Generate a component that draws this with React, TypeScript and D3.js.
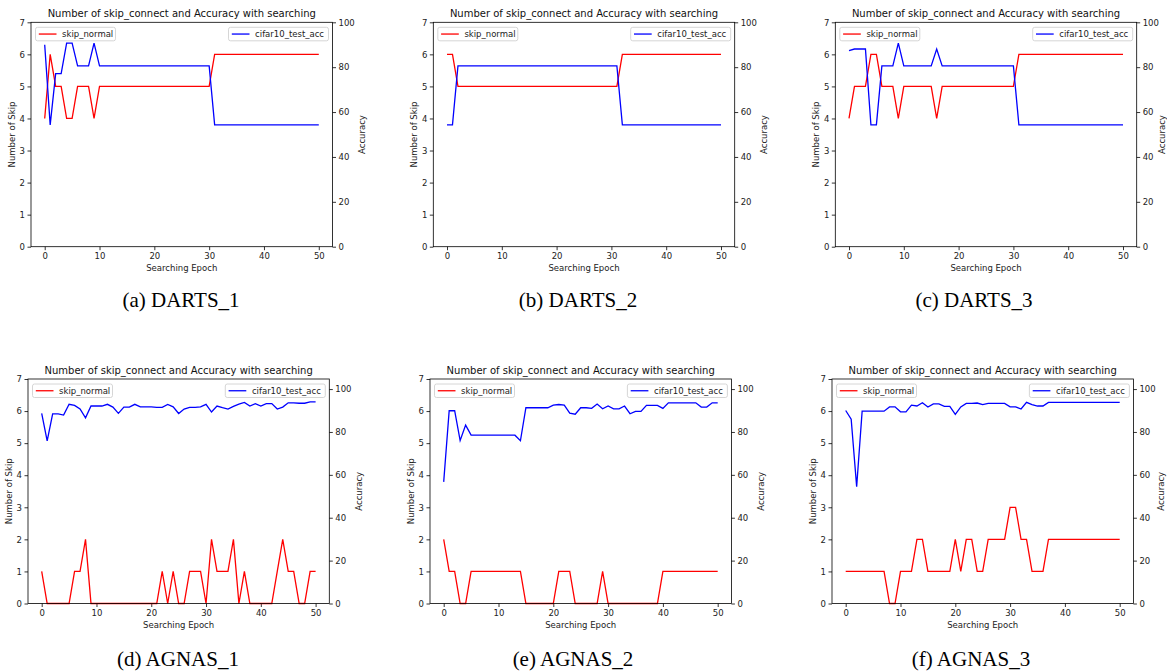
import React, { useEffect, useRef } from "react";
import * as d3 from "d3";

// epochs 0..50
const epochs = [
  0, 1, 2, 3, 4, 5, 6, 7, 8, 9, 10, 11, 12, 13, 14, 15, 16, 17, 18, 19, 20, 21, 22, 23, 24, 25,
  26, 27, 28, 29, 30, 31, 32, 33, 34, 35, 36, 37, 38, 39, 40, 41, 42, 43, 44, 45, 46, 47, 48, 49, 50,
];
const xTicks = [0, 10, 20, 30, 40, 50];
const skipTicks = [0, 1, 2, 3, 4, 5, 6, 7];
const accTicks = [0, 20, 40, 60, 80, 100];

const dartsSkip1 = [4,6,5,5,4,4,5,5,5,4, 5,5,5,5,5,5,5,5,5,5, 5,5,5,5,5,5,5,5,5,5, 5,6,6,6,6,6,6,6,6,6, 6,6,6,6,6,6,6,6,6,6, 6];
const dartsAcc1 = [90,54.3,77.1,77.1,90.7,90.7,80.6,80.6,80.6,90.7, 80.6,80.6,80.6,80.6,80.6,80.6,80.6,80.6,80.6,80.6, 80.6,80.6,80.6,80.6,80.6,80.6,80.6,80.6,80.6,80.6, 80.6,54.3,54.3,54.3,54.3,54.3,54.3,54.3,54.3,54.3, 54.3,54.3,54.3,54.3,54.3,54.3,54.3,54.3,54.3,54.3, 54.3];

const dartsSkip2 = [6,6,5,5,5,5,5,5,5,5, 5,5,5,5,5,5,5,5,5,5, 5,5,5,5,5,5,5,5,5,5, 5,5,6,6,6,6,6,6,6,6, 6,6,6,6,6,6,6,6,6,6, 6];
const dartsAcc2 = [54.3,54.3,80.6,80.6,80.6,80.6,80.6,80.6,80.6,80.6, 80.6,80.6,80.6,80.6,80.6,80.6,80.6,80.6,80.6,80.6, 80.6,80.6,80.6,80.6,80.6,80.6,80.6,80.6,80.6,80.6, 80.6,80.6,54.3,54.3,54.3,54.3,54.3,54.3,54.3,54.3, 54.3,54.3,54.3,54.3,54.3,54.3,54.3,54.3,54.3,54.3, 54.3];

const dartsSkip3 = [4,5,5,5,6,6,5,5,5,4, 5,5,5,5,5,5,4,5,5,5, 5,5,5,5,5,5,5,5,5,5, 5,6,6,6,6,6,6,6,6,6, 6,6,6,6,6,6,6,6,6,6, 6];
const dartsAcc3 = [87.4,88.1,88.1,88.1,54.3,54.3,80.6,80.6,80.6,90.7, 80.6,80.6,80.6,80.6,80.6,80.6,88.1,80.6,80.6,80.6, 80.6,80.6,80.6,80.6,80.6,80.6,80.6,80.6,80.6,80.6, 80.6,54.3,54.3,54.3,54.3,54.3,54.3,54.3,54.3,54.3, 54.3,54.3,54.3,54.3,54.3,54.3,54.3,54.3,54.3,54.3, 54.3];

const agnasSkip1 = [1,0,0,0,0,0,1,1,2,0, 0,0,0,0,0,0,0,0,0,0, 0,0,1,0,1,0,0,1,1,1, 0,2,1,1,1,2,0,1,0,0, 0,0,0,1,2,1,1,0,0,1, 1];
const agnasAcc1 = [88.7,75.8,88.4,88.4,87.9,92.9,92.4,90.7,86.6,92.1, 92.1,92.1,92.9,91.6,88.7,91.6,91.6,92.9,91.7,91.7, 91.7,91.5,91.5,92.8,91.7,88.6,90.7,91.5,91.5,91.7, 92.9,89.3,92.1,91.3,90.7,91.9,93.0,93.8,92.1,93.2, 92.1,93.2,93.2,90.7,91.6,93.6,93.6,93.4,93.4,94.0, 94.0];

const agnasSkip2 = [2,1,1,0,0,1,1,1,1,1, 1,1,1,1,1,0,0,0,0,0, 0,1,1,1,0,0,0,0,0,1, 0,0,0,0,0,0,0,0,0,0, 1,1,1,1,1,1,1,1,1,1, 1];
const agnasAcc2 = [56.7,89.9,89.9,76.0,83.2,78.5,78.5,78.5,78.5,78.5, 78.5,78.5,78.5,78.5,75.9,91.3,91.3,91.3,91.3,91.3, 92.5,92.8,92.5,88.8,88.3,91.3,91.3,91.0,93.0,90.8, 92.1,90.8,90.8,92.1,88.5,89.6,89.6,92.4,92.4,92.4, 91.0,93.6,93.6,93.6,93.6,93.6,93.6,91.6,91.6,93.6, 93.6];

const agnasSkip3 = [1,1,1,1,1,1,1,1,0,0, 1,1,1,2,2,1,1,1,1,1, 2,1,2,2,1,1,2,2,2,2, 3,3,2,2,1,1,1,2,2,2, 2,2,2,2,2,2,2,2,2,2, 2];
const agnasAcc3 = [90.0,86.0,54.5,89.7,89.7,89.7,89.7,89.7,91.7,91.7, 89.4,89.4,92.5,92.1,93.6,91.6,93.1,93.1,91.9,91.9, 88.2,91.7,93.3,93.3,93.5,92.8,93.3,93.3,93.3,93.3, 91.7,91.7,90.7,93.8,92.8,92.1,92.1,93.8,93.8,93.8, 93.8,93.8,93.8,93.8,93.8,93.8,93.8,93.8,93.8,93.8, 93.8];

const title = "Number of skip_connect and Accuracy with searching";
const captions = ["(a)  DARTS_1", "(b)  DARTS_2", "(c)  DARTS_3", "(d)  AGNAS_1", "(e)  AGNAS_2", "(f)  AGNAS_3"];

// layout of each subplot (pixels)
const panels = [
  { skip: dartsSkip1, acc: dartsAcc1, left: 31, right: 332.5, top: 22.3, bottom: 246.7, accMax: 100, capX: 181, capY: 307, accLab: 29.5 },
  { skip: dartsSkip2, acc: dartsAcc2, left: 433.3, right: 734.7, top: 22.3, bottom: 246.7, accMax: 100, capX: 578, capY: 307, accLab: 29.5 },
  { skip: dartsSkip3, acc: dartsAcc3, left: 835.3, right: 1136.7, top: 22.3, bottom: 246.7, accMax: 100, capX: 974, capY: 307, accLab: 25.5 },
  { skip: agnasSkip1, acc: agnasAcc1, left: 28, right: 329.3, top: 379, bottom: 603.5, accMax: 104.7, capX: 178, capY: 666, accLab: 29.5 },
  { skip: agnasSkip2, acc: agnasAcc2, left: 430, right: 731.4, top: 379, bottom: 603.5, accMax: 104.7, capX: 573, capY: 666, accLab: 29.5 },
  { skip: agnasSkip3, acc: agnasAcc3, left: 832, right: 1133.4, top: 379, bottom: 603.5, accMax: 104.7, capX: 971, capY: 666, accLab: 27.5 },
];

const font = "DejaVu Sans, sans-serif";

export default function App() {
  const ref = useRef<SVGSVGElement>(null);

  useEffect(() => {
    const svg = d3.select(ref.current);
    svg.selectAll("*").remove();

    panels.forEach((p, k) => {
      const g = svg.append("g");
      const x = d3.scaleLinear().domain([-2.5, 52.5]).range([p.left, p.right]);
      const y = d3.scaleLinear().domain([0, 7]).range([p.bottom, p.top]);
      const yr = d3.scaleLinear().domain([0, p.accMax]).range([p.bottom, p.top]);

      const styleAxis = (a) => {
        a.select(".domain").remove();
        a.selectAll("line").attr("stroke", "#000").attr("stroke-width", 0.8);
        a.selectAll("text").attr("font-size", 8.5).attr("font-family", font).attr("fill", "#222");
      };

      g.append("g")
        .attr("transform", `translate(0,${p.bottom})`)
        .call(d3.axisBottom(x).tickValues(xTicks).tickSize(3.5).tickPadding(3).tickSizeOuter(0))
        .call(styleAxis);
      g.append("g")
        .attr("transform", `translate(${p.left},0)`)
        .call(d3.axisLeft(y).tickValues(skipTicks).tickFormat(d3.format("d")).tickSize(3.5).tickPadding(2.5).tickSizeOuter(0))
        .call(styleAxis);
      g.append("g")
        .attr("transform", `translate(${p.right},0)`)
        .call(d3.axisRight(yr).tickValues(accTicks).tickSize(3.5).tickPadding(2.5).tickSizeOuter(0))
        .call(styleAxis);

      const skipLine = d3
        .line<number>()
        .x((_, i) => x(epochs[i]))
        .y((d) => y(d));
      const accLine = d3
        .line<number>()
        .x((_, i) => x(epochs[i]))
        .y((d) => yr(d));

      g.append("path").attr("d", skipLine(p.skip)).attr("fill", "none").attr("stroke", "red").attr("stroke-width", 1.3);
      g.append("path").attr("d", accLine(p.acc)).attr("fill", "none").attr("stroke", "blue").attr("stroke-width", 1.3);

      g.append("rect")
        .attr("x", p.left)
        .attr("y", p.top)
        .attr("width", p.right - p.left)
        .attr("height", p.bottom - p.top)
        .attr("fill", "none")
        .attr("stroke", "#000")
        .attr("stroke-width", 0.8);

      const cx = (p.left + p.right) / 2;
      const cy = (p.top + p.bottom) / 2;
      g.append("text")
        .attr("x", cx)
        .attr("y", p.top - 5)
        .attr("text-anchor", "middle")
        .attr("font-size", 10)
        .attr("font-family", font)
        .attr("fill", "#111")
        .text(title);
      g.append("text")
        .attr("x", cx)
        .attr("y", p.bottom + 24)
        .attr("text-anchor", "middle")
        .attr("font-size", 8.5)
        .attr("font-family", font)
        .attr("fill", "#222")
        .text("Searching Epoch");
      g.append("text")
        .attr("transform", `translate(${p.left - 19},${cy}) rotate(-90)`)
        .attr("dy", "0.35em")
        .attr("text-anchor", "middle")
        .attr("font-size", 8.5)
        .attr("font-family", font)
        .attr("fill", "#222")
        .text("Number of Skip");
      // the third column sits at the page edge: keep the label just inside it
      g.append("text")
        .attr("transform", `translate(${p.right + p.accLab},${cy}) rotate(-90)`)
        .attr("dy", "0.35em")
        .attr("text-anchor", "middle")
        .attr("font-size", 8.5)
        .attr("font-family", font)
        .attr("fill", "#222")
        .text("Accuracy");

      // legends
      const legend = (bx, w, label, color) => {
        const by = p.top + 5;
        g.append("rect")
          .attr("x", bx)
          .attr("y", by)
          .attr("width", w)
          .attr("height", 13.5)
          .attr("rx", 2)
          .attr("fill", "white")
          .attr("fill-opacity", 0.8)
          .attr("stroke", "#cccccc")
          .attr("stroke-width", 0.8);
        g.append("line")
          .attr("x1", bx + 3.3)
          .attr("x2", bx + 21)
          .attr("y1", by + 6.75)
          .attr("y2", by + 6.75)
          .attr("stroke", color)
          .attr("stroke-width", 1.3);
        g.append("text")
          .attr("x", bx + 26.6)
          .attr("y", by + 9.8)
          .attr("font-size", 8.5)
          .attr("font-family", font)
          .attr("fill", "#222")
          .text(label);
      };
      legend(p.left + 4.5, 80, "skip_normal", "red");
      legend(p.right - 4 - 100, 100, "cifar10_test_acc", "blue");

      svg.append("text")
        .attr("x", p.capX)
        .attr("y", p.capY)
        .attr("text-anchor", "middle")
        .attr("font-size", 21)
        .attr("font-family", "Liberation Serif, Times New Roman, serif")
        .attr("fill", "#000")
        .text(captions[k]);
    });
  }, []);

  return (
    <svg
      ref={ref}
      width={1167}
      height={672}
      style={{ position: "absolute", left: 0, top: 0, background: "white" }}
    ></svg>
  );
}
